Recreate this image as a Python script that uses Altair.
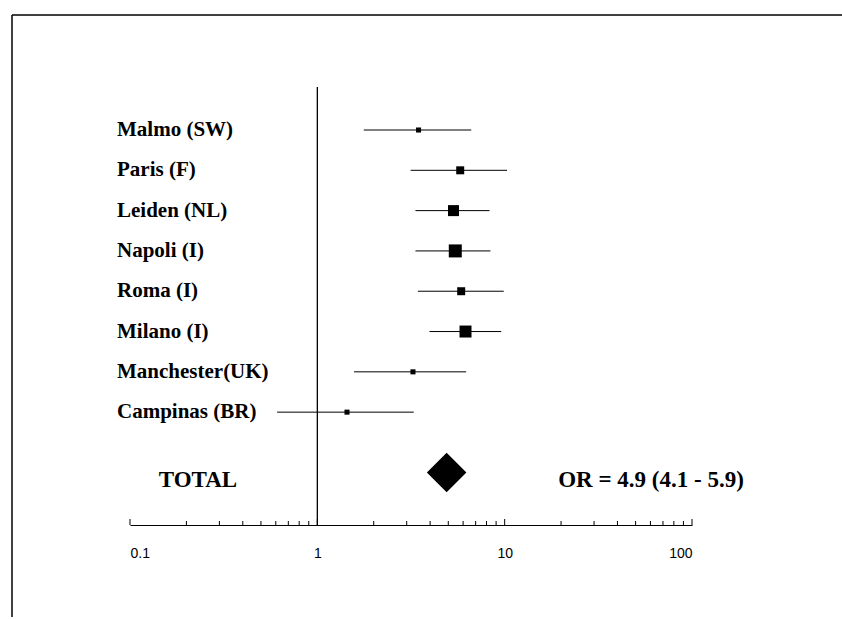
import altair as alt
import pandas as pd

# ---- data ----
studies = ["Malmo (SW)", "Paris (F)", "Leiden (NL)", "Napoli (I)", "Roma (I)",
           "Milano (I)", "Manchester(UK)", "Campinas (BR)"]
odds_ratio = [3.47, 5.79, 5.33, 5.45, 5.86, 6.18, 3.24, 1.44]
ci_low = [1.77, 3.15, 3.34, 3.34, 3.44, 3.97, 1.57, 0.61]
ci_high = [6.63, 10.3, 8.30, 8.40, 9.89, 9.58, 6.23, 3.27]
weights = [4, 10, 19, 26.5, 10, 22.5, 4, 4]

total_label = "TOTAL"
total_or = 4.9
total_low = 4.1
total_high = 5.9

tick_labels = [0.1, 1, 10, 100]
decades = [0.1, 1, 10]
multipliers = [1, 2, 3, 4, 5, 6, 7, 8, 9]

# ---- layout ----
W, H = 562, 438
PAD = {"left": 130, "top": 87, "right": 150, "bottom": 94}
rows = list(range(1, len(studies) + 1))
total_row = 9.5

df = pd.DataFrame({"study": studies, "or_": odds_ratio, "lo": ci_low,
                   "hi": ci_high, "w": weights, "row": rows})
tot = pd.DataFrame({"label": [total_label], "or_": [total_or], "lo": [total_low],
                    "hi": [total_high], "row": [total_row],
                    "txt": [f"OR = {total_or} ({total_low} - {total_high})"]})
minor = pd.DataFrame({"t": [round(d * m, 3) for d in decades for m in multipliers[1:]]})
major = pd.DataFrame({"t": tick_labels})
one = pd.DataFrame({"x": [1]})
dummy = pd.DataFrame({"a": [0]})

xs = alt.Scale(type="log", domain=[0.1, 100], nice=False)
ys = alt.Scale(domain=[-0.067, 10.8], nice=False, zero=False, reverse=True)
xaxis = alt.Axis(values=tick_labels, ticks=False, grid=False, domain=True,
                 domainColor="black", domainWidth=1, format="~g",
                 labelFont="Liberation Sans", labelFontSize=14, labelColor="black",
                 labelPadding=28, labelBaseline="middle", title=None)

def X(field):
    return alt.X(f"{field}:Q", scale=xs, axis=xaxis)

def Y(field):
    return alt.Y(f"{field}:Q", scale=ys, axis=None)

ref = alt.Chart(one).mark_rule(color="black", strokeWidth=1.3).encode(
    x=X("x"), y=alt.value(0), y2=alt.value(H))

ci = alt.Chart(df).mark_rule(color="black", strokeWidth=1).encode(
    x=X("lo"), x2="hi:Q", y=Y("row"))

squares = alt.Chart(df).mark_square(color="black", filled=True, opacity=1).encode(
    x=X("or_"), y=Y("row"),
    size=alt.Size("w:Q", scale=alt.Scale(domain=[0, 26.5], range=[0, 169]), legend=None))

diamond = alt.Chart(tot).mark_point(shape="diamond", filled=True, color="black",
                                    opacity=1, size=1560).encode(
    x=X("or_"), y=Y("row"))

labels = alt.Chart(df).mark_text(align="left", baseline="middle", font="Liberation Serif",
                                 fontWeight="bold", fontSize=21, color="black").encode(
    x=alt.value(-13), y=Y("row"), text="study:N")

total_txt = alt.Chart(tot).mark_text(align="center", baseline="middle", font="Liberation Serif",
                                     fontWeight="bold", fontSize=23, color="black", dy=7).encode(
    x=alt.value(68), y=Y("row"), text="label:N")

or_txt = alt.Chart(tot).mark_text(align="center", baseline="middle", font="Liberation Serif",
                                  fontWeight="bold", fontSize=23, color="black", dy=7).encode(
    x=alt.value(521), y=Y("row"), text="txt:N")

minor_ticks = alt.Chart(minor).mark_rule(color="black", strokeWidth=1).encode(
    x=X("t"), y=alt.value(H), y2=alt.value(H - 4))
major_ticks = alt.Chart(major).mark_rule(color="black", strokeWidth=1).encode(
    x=X("t"), y=alt.value(H), y2=alt.value(H - 6))

frame_top = alt.Chart(dummy).mark_rule(color="black", strokeWidth=1.5).encode(
    x=alt.value(-118), x2=alt.value(712), y=alt.value(-72))
frame_left = alt.Chart(dummy).mark_rule(color="black", strokeWidth=1.5).encode(
    x=alt.value(-118), y=alt.value(-72), y2=alt.value(530))

chart = alt.layer(frame_top, frame_left, ref, ci, squares, diamond, labels,
                  total_txt, or_txt, minor_ticks, major_ticks).properties(
    width=W, height=H,
    autosize=alt.AutoSizeParams(type="none"),
    padding=PAD,
    background="white",
).configure_view(stroke=None).configure_axis(
    labelFontSize=14, labelFont="Liberation Sans", labelColor="black")

chart.save("out.html", embed_options={"renderer": "svg", "actions": False})
